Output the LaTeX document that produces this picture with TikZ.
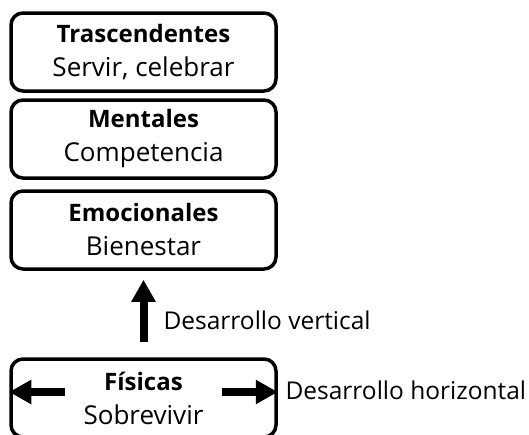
\documentclass[tikz,border=0pt]{standalone}
\usepackage{fontspec}
\setmainfont{Open Sans}
\usetikzlibrary{arrows.meta}

\newcommand{\titulo}[1]{{\fontsize{24}{34}\selectfont\textbf{#1}}}

\begin{document}
\begin{tikzpicture}[x=1pt,y=-1pt,
    caja/.style={draw,line width=3.5pt,rounded corners=12pt,minimum width=265pt,minimum height=78pt,align=center,font=\fontsize{26}{34}\selectfont},
    flecha/.style={line width=8pt,-{Triangle[width=23pt,length=22pt]}}]
  \useasboundingbox (0,0) rectangle (529,434);
  \clip (0,0) rectangle (529,434);
  \node[caja] (A) at (143.5,52) {\titulo{Trascendentes}\\Servir, celebrar};
  \node[caja] (B) at (143.5,139) {\titulo{Mentales}\\Competencia};
  \node[caja] (C) at (143.5,230) {\titulo{Emocionales}\\Bienestar};
  \node[caja] (D) at (143.5,398) {\titulo{Físicas}\\Sobrevivir};
    % flechas
  \coordinate (dl) at (65,392);
  \coordinate (dr) at (222,392);
  \draw[flecha] ([yshift=15pt]D.north) -- ([yshift=-9pt]C.south);
  \draw[flecha] (dl) -- (dl -| D.west);
  \draw[flecha] (dr) -- (dr -| D.east);
  \node[anchor=west,font=\fontsize{24.5}{30}\selectfont] (V) at (160,320) {Desarrollo vertical};
  \node[anchor=west,font=\fontsize{24.5}{30}\selectfont] (H) at (282,390) {Desarrollo horizontal};
\end{tikzpicture}
\end{document}
